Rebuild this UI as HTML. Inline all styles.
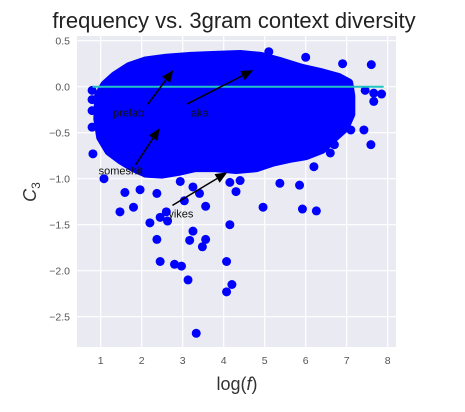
<!DOCTYPE html>
<html><head><meta charset="utf-8"><style>
body{margin:0;background:#fff;width:465px;height:407px;overflow:hidden;font-family:"Liberation Sans",sans-serif}
</style></head><body>
<svg id="chart" width="465" height="407" xmlns="http://www.w3.org/2000/svg">
<text x="234" y="28" text-anchor="middle" font-size="22" fill="#222">frequency vs. 3gram context diversity</text>
<rect x="77" y="36" width="319" height="311" fill="#eaeaf2"/>
<g id="grid"></g>
<g id="ticks" font-size="10.5" fill="#555"></g>
<g id="marks"></g>
<g id="ann" font-size="11" fill="#111"></g>
<text x="237" y="390" text-anchor="middle" font-size="18" fill="#333">log(<tspan font-style="italic">f</tspan>)</text>
<text x="0" y="0" transform="translate(36,192) rotate(-90)" text-anchor="middle" font-size="18" fill="#333"><tspan font-style="italic">C</tspan><tspan font-size="12" dy="4">3</tspan></text>
</svg>
<script>
const xTicks=[1,2,3,4,5,6,7,8];
const yTicks=[0.5,0,-0.5,-1,-1.5,-2,-2.5];
const yTickLabels=["0.5","0.0","\u22120.5","\u22121.0","\u22121.5","\u22122.0","\u22122.5"];
const blobX=[0.95,1.1,1.35,1.7,2.1,2.6,3.2,3.8,4.4,4.9,5.4,5.9,6.4,6.8,7.05,7.1,7.1,6.95,6.7,6.4,6.0,5.6,5.2,4.8,4.3,3.8,3.3,2.9,2.5,2.1,1.8,1.5,1.2,1.0,0.93];
const blobY=[-0.1,0.02,0.12,0.22,0.28,0.31,0.33,0.34,0.35,0.33,0.27,0.2,0.15,0.1,0.04,-0.1,-0.3,-0.45,-0.55,-0.68,-0.75,-0.78,-0.82,-0.88,-0.9,-0.88,-0.88,-0.92,-0.95,-0.94,-0.88,-0.8,-0.7,-0.55,-0.35];
const ptX=[1.47,2.2,2.37,2.45,2.8,2.97,3.13,3.33,3.17,3.25,3.56,3.48,4.07,4.07,4.2,4.15,2.6,2.45,2.63,3.04,3.56,4.3,4.15,4.4,4.96,5.37,5.85,5.92,6.26,1.8,1.59,1.96,2.37,2.94,3.25,3.41,1.08,0.81,0.79,0.79,0.79,0.79,5.1,6.0,6.9,7.6,7.85,7.66,7.45,7.66,7.42,7.59,7.1,6.7,6.6,6.2];
const ptY=[-1.36,-1.48,-1.66,-1.9,-1.93,-1.95,-2.1,-2.68,-1.67,-1.57,-1.66,-1.74,-1.9,-2.23,-2.15,-1.5,-1.36,-1.42,-1.46,-1.24,-1.3,-1.14,-1.04,-1.02,-1.31,-1.05,-1.07,-1.33,-1.35,-1.31,-1.15,-1.12,-1.16,-1.03,-1.09,-1.16,-1.0,-0.73,-0.44,-0.26,-0.14,-0.04,0.38,0.32,0.25,0.24,-0.08,-0.07,-0.04,-0.16,-0.47,-0.63,-0.47,-0.63,-0.72,-0.87];
const annLabels=["prefab","aka","someshit","yikes"];
const annTextX=[1.3,3.2,0.95,2.65];
const annTextY=[-0.28,-0.28,-0.91,-1.38];
const annTailX=[2.15,3.1,1.85,2.75];
const annTailY=[-0.19,-0.19,-0.85,-1.29];
const annHeadX=[2.77,4.72,2.44,4.09];
const annHeadY=[0.18,0.18,-0.45,-0.93];
const hline=[0.8,7.9,0];
const sx=v=>100.7+(v-1)*41, sy=v=>86.7-v*92;
const NS="http://www.w3.org/2000/svg";
function mk(t,a,p){const e=document.createElementNS(NS,t);for(const k in a)e.setAttribute(k,a[k]);p.appendChild(e);return e;}
const grid=document.getElementById('grid'),ticks=document.getElementById('ticks'),marks=document.getElementById('marks'),ann=document.getElementById('ann');
xTicks.forEach(v=>{
 const l=mk('line',{x1:sx(v),x2:sx(v),y1:36,y2:347,stroke:'#fff','stroke-width':1.2},grid);
 
 
 const t=mk('text',{x:sx(v),y:364,'text-anchor':'middle'},ticks);t.textContent=v;
 
 
});
yTicks.forEach((v,i)=>{
 const l=mk('line',{x1:77,x2:396,y1:sy(v),y2:sy(v),stroke:'#fff','stroke-width':1.2},grid);
 
 
 const t=mk('text',{x:70,y:sy(v)+4,'text-anchor':'end'},ticks);t.textContent=yTickLabels[i];
 
 
});
const pts=blobX.map((x,i)=>sx(x)+','+sy(blobY[i])).join(' ');
const b=mk('polygon',{points:pts,fill:'#0000ff',stroke:'#0000ff','stroke-width':9,'stroke-linejoin':'round'},marks);


ptX.forEach((x,i)=>{
 const c=mk('circle',{cx:sx(x),cy:sy(ptY[i]),r:4.5,fill:'#0000ff'},marks);
 
 
});
const h=mk('line',{x1:sx(hline[0]),x2:sx(hline[1]),y1:sy(hline[2]),y2:sy(hline[2]),stroke:'#22c4c4','stroke-width':2},marks);


annLabels.forEach((s,i)=>{
 const x1=sx(annTailX[i]),y1=sy(annTailY[i]),x2=sx(annHeadX[i]),y2=sy(annHeadY[i]);
 const a=Math.atan2(y2-y1,x2-x1),L=12,W=5;
 const bx=x2-L*Math.cos(a),by=y2-L*Math.sin(a);
 const ln=mk('line',{x1:x1,y1:y1,x2:bx,y2:by,stroke:'#000','stroke-width':1.5},ann);
 
 
 const hd=mk('polygon',{points:`${x2},${y2} ${bx+W*Math.sin(a)},${by-W*Math.cos(a)} ${bx-W*Math.sin(a)},${by+W*Math.cos(a)}`,fill:'#000'},ann);
 
 
 const t=mk('text',{x:sx(annTextX[i]),y:sy(annTextY[i])+4},ann);t.textContent=s;
 
 
});
</script>
</body></html>
